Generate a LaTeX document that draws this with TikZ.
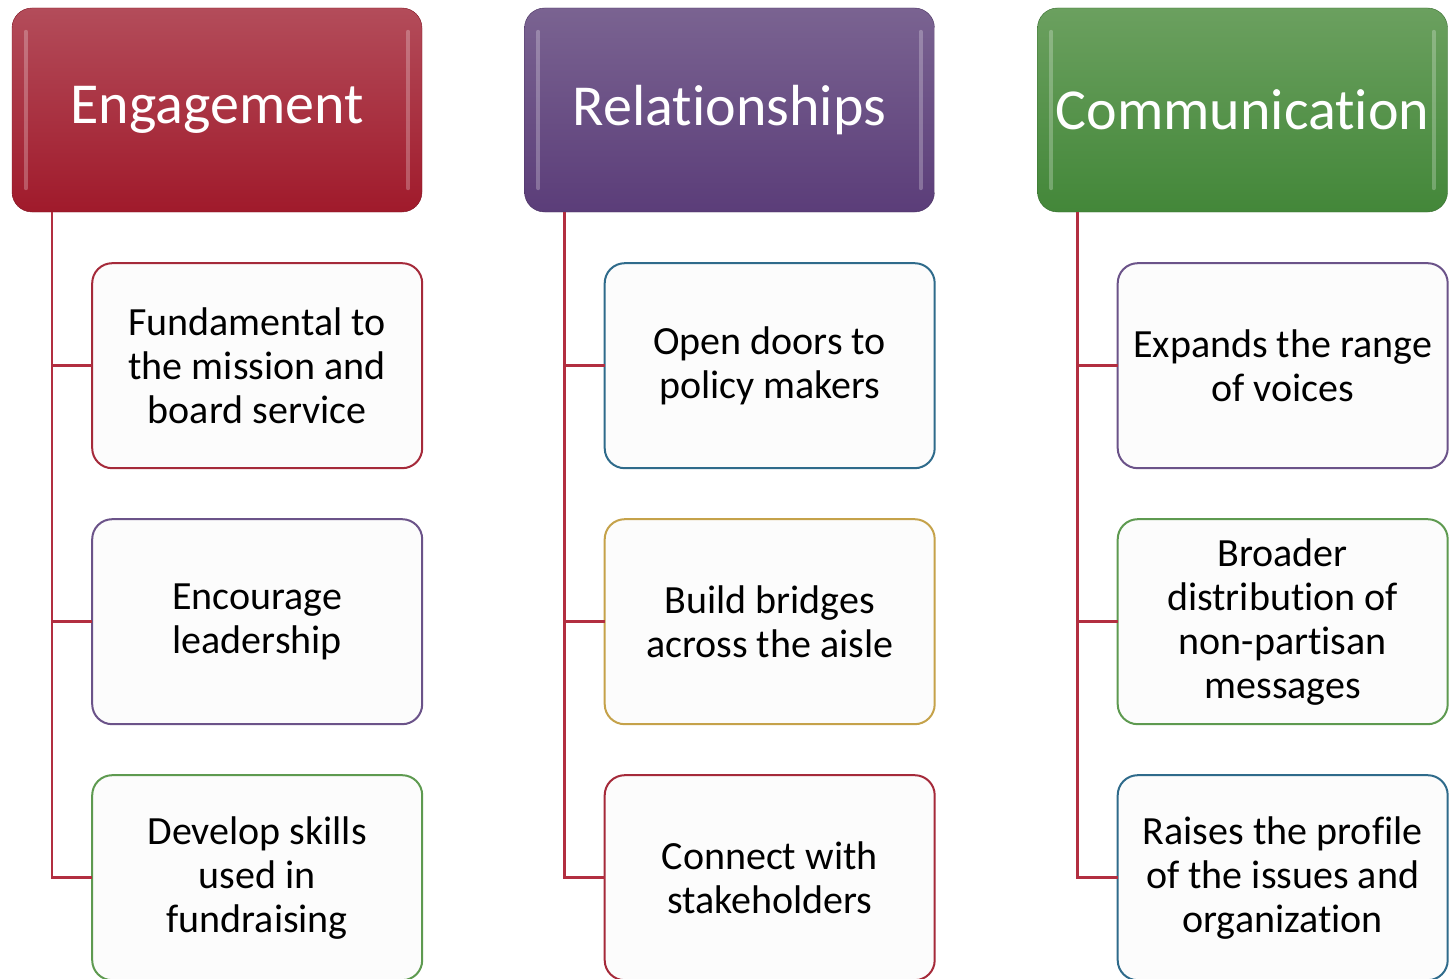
\documentclass[tikz,border=0pt]{standalone}
\usepackage{fontspec}
\setmainfont{Carlito}[Ligatures=NoCommon]
\usetikzlibrary{positioning}
\definecolor{engtop}{HTML}{B34C5A}
\definecolor{engbot}{HTML}{A01A2B}
\definecolor{reltop}{HTML}{7A6391}
\definecolor{relbot}{HTML}{5B3D79}
\definecolor{comtop}{HTML}{6BA05F}
\definecolor{combot}{HTML}{438739}
\definecolor{edgered}{HTML}{A52A3A}
\definecolor{edgepurple}{HTML}{6B5389}
\definecolor{edgegreen}{HTML}{5E9A50}
\definecolor{edgeblue}{HTML}{2F6B8B}
\definecolor{edgegold}{HTML}{C5A24A}
\definecolor{linkred}{HTML}{B22E40}

\begin{document}
\begin{tikzpicture}[x=1pt,y=-1pt,
  node distance=51pt,
  head/.style={rounded corners=20pt, minimum width=410pt, minimum height=204pt,
    inner sep=0pt, text=white, font=\fontsize{58}{64}\selectfont},
  item/.style={draw, line width=2pt, rounded corners=20pt, fill=white!99!black,
    minimum width=330pt, minimum height=205pt, inner sep=0pt, outer sep=0pt,
    align=center, font=\fontsize{40}{44}\selectfont},
  link/.style={draw=linkred, line width=2.5pt},
  shine/.style={draw=white, opacity=0.25, line width=4pt, line cap=round}
% item boxes hang off the east side of their heading
]
\useasboundingbox (0,0) rectangle (1449,979);

% headings
\path (217,110) node[head, top color=engtop, bottom color=engbot,
  draw=engbot!80!black] (eng) {Engagement};
\path (729.5,110) node[head, top color=reltop, bottom color=relbot,
  draw=relbot!80!black] (rel) {Relationships};
\path (1242.5,110) node[head, top color=comtop, bottom color=combot,
  draw=combot!80!black] (com) {Communication};

\begin{scope}[shine]
\draw ([xshift=14pt,yshift=-24pt]eng.north west) -- ([xshift=14pt,yshift=24pt]eng.south west);
\draw ([xshift=-14pt,yshift=-24pt]eng.north east) -- ([xshift=-14pt,yshift=24pt]eng.south east);
\draw ([xshift=14pt,yshift=-24pt]rel.north west) -- ([xshift=14pt,yshift=24pt]rel.south west);
\draw ([xshift=-14pt,yshift=-24pt]rel.north east) -- ([xshift=-14pt,yshift=24pt]rel.south east);
\draw ([xshift=14pt,yshift=-24pt]com.north west) -- ([xshift=14pt,yshift=24pt]com.south west);
\draw ([xshift=-14pt,yshift=-24pt]com.north east) -- ([xshift=-14pt,yshift=24pt]com.south east);
\end{scope}

% first column
\path ([yshift=-51pt]eng.south east) node[item, anchor=north east, draw=edgered] (eng1)
  {Fundamental to\\the mission and\\board service};
\node[item, draw=edgepurple, below=of eng1] (eng2) {Encourage\\leadership};
\node[item, draw=edgegreen, below=of eng2] (eng3) {Develop skills\\used in\\fundraising};

% second column
\path ([yshift=-51pt]rel.south east) node[item, anchor=north east, draw=edgeblue] (rel1)
  {Open doors to\\policy makers};
\node[item, draw=edgegold, below=of rel1] (rel2) {Build bridges\\across the aisle};
\node[item, draw=edgered, below=of rel2] (rel3) {Connect with\\stakeholders};

% third column
\path ([yshift=-51pt]com.south east) node[item, anchor=north east, draw=edgepurple] (com1)
  {Expands the range\\of voices};
\node[item, draw=edgegreen, below=of com1] (com2)
  {Broader\\distribution of\\non-partisan\\messages};
\node[item, draw=edgeblue, below=of com2] (com3)
  {Raises the profile\\of the issues and\\organization};

% stems
\coordinate (eng-stem) at ([xshift=40pt]eng.south west);
\coordinate (rel-stem) at ([xshift=40pt]rel.south west);
\coordinate (com-stem) at ([xshift=40pt]com.south west);
\draw[link] (eng-stem) |- (eng1.west);
\draw[link] (eng-stem) |- (eng2.west);
\draw[link] (eng-stem) |- (eng3.west);
\draw[link] (rel-stem) |- (rel1.west);
\draw[link] (rel-stem) |- (rel2.west);
\draw[link] (rel-stem) |- (rel3.west);
\draw[link] (com-stem) |- (com1.west);
\draw[link] (com-stem) |- (com2.west);
\draw[link] (com-stem) |- (com3.west);
\end{tikzpicture}
\end{document}
